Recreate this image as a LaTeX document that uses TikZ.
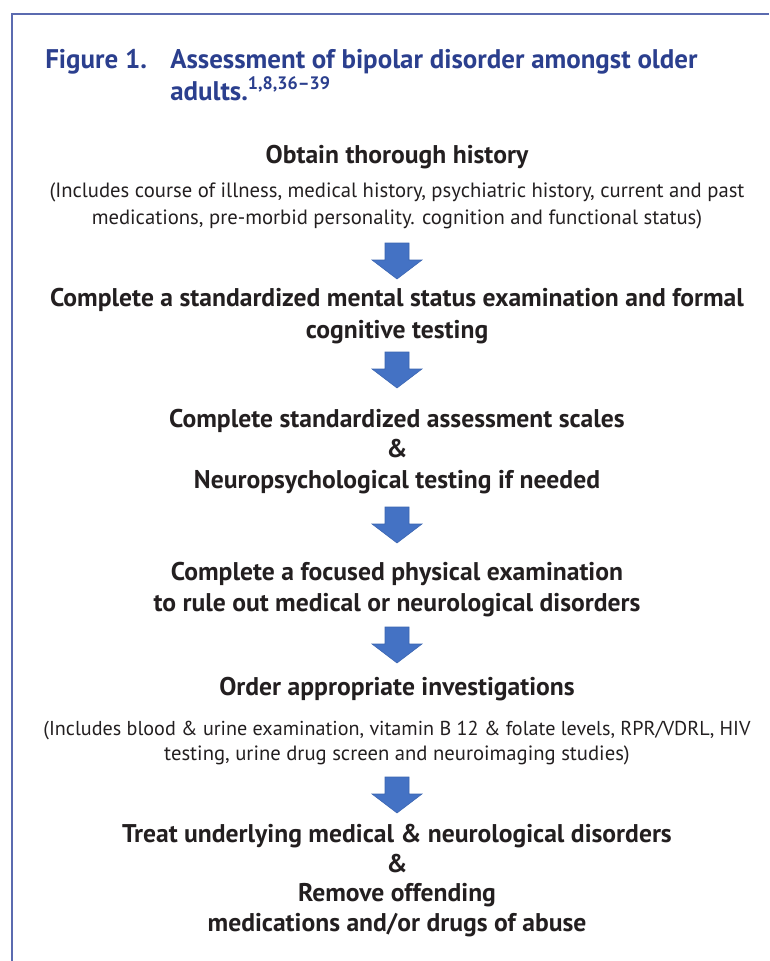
\documentclass[tikz,border=0pt]{standalone}
\usepackage{fontspec}
\setmainfont{PT Sans}
\definecolor{titleblue}{HTML}{2B3F8E}
\definecolor{framecol}{HTML}{5B6BB0}
\definecolor{arrowfill}{HTML}{4472C4}
\definecolor{arrowedge}{HTML}{3A64B0}
\definecolor{textcol}{HTML}{231F20}
\tikzset{
  head/.style={anchor=base, text=textcol, inner sep=0pt, font=\fontsize{19.2}{22}\bfseries\selectfont},
  note/.style={anchor=base, text=textcol, inner sep=0pt, font=\fontsize{15.5}{18}\selectfont},
  ttl/.style={anchor=base west, text=titleblue, inner sep=0pt, font=\fontsize{20.2}{24}\bfseries\selectfont},
  blockarrow/.pic={
    \fill[arrowfill, draw=arrowedge, line width=0.4pt]
      (-12,0) -- (12,0) -- (12,17) -- (25,17) -- (0,36) -- (-25,17) -- (-12,17) -- cycle;
  }
}
\begin{document}
\begin{tikzpicture}[x=0.75pt, y=-0.75pt]
\useasboundingbox (0,0) rectangle (769,961);
% frame
\draw[framecol, line width=1.2pt] (12,961) -- (12,14) -- (769,14);
% title
\node[ttl] (fig) at (45,68) {Figure 1.};
\node[ttl] (t1) at (170,68) {Assessment of bipolar disorder amongst older};
\node[ttl] (t2) at (170,100) {adults.\textsuperscript{\fontsize{13.5}{14}\selectfont 1,8,36–39}};
% block 1
\node[head] (h1) at (397,163) {Obtain thorough history};
\node[note] (n1a) at (397,197) {(Includes course of illness, medical history, psychiatric history, current and past};
\node[note] (n1b) at (397,224) {medications, pre-morbid personality. cognition and functional status)};
\pic at (397,243) {blockarrow};
% block 2
\node[head] (h2a) at (397,306) {Complete a standardized mental status examination and formal};
\node[head] (h2b) at (397,338) {cognitive testing};
\pic at (397,352) {blockarrow};
% block 3
\node[head] (h3a) at (397,427) {Complete standardized assessment scales};
\node[head] (h3b) at (397,457) {\&};
\node[head] (h3c) at (397,488) {Neuropsychological testing if needed};
\pic at (397,507) {blockarrow};
% block 4
\node[head] (h4a) at (397,580) {Complete a focused physical examination};
\node[head] (h4b) at (397,611) {to rule out medical or neurological disorders};
\pic at (397,627) {blockarrow};
% block 5
\node[head] (h5) at (397,695) {Order appropriate investigations};
\node[note, font=\fontsize{15.1}{18}\selectfont] (n5a) at (397,735) {(Includes blood \& urine examination, vitamin B 12 \& folate levels, RPR/VDRL, HIV};
\node[note] (n5b) at (397,760) {testing, urine drug screen and neuroimaging studies)};
\pic at (397,777) {blockarrow};
% block 6
\node[head] (h6a) at (397,842) {Treat underlying medical \& neurological disorders};
\node[head] (h6b) at (397,872) {\&};
\node[head] (h6c) at (397,901) {Remove offending};
\node[head] (h6d) at (397,931) {medications and/or drugs of abuse};
\end{tikzpicture}
\end{document}
